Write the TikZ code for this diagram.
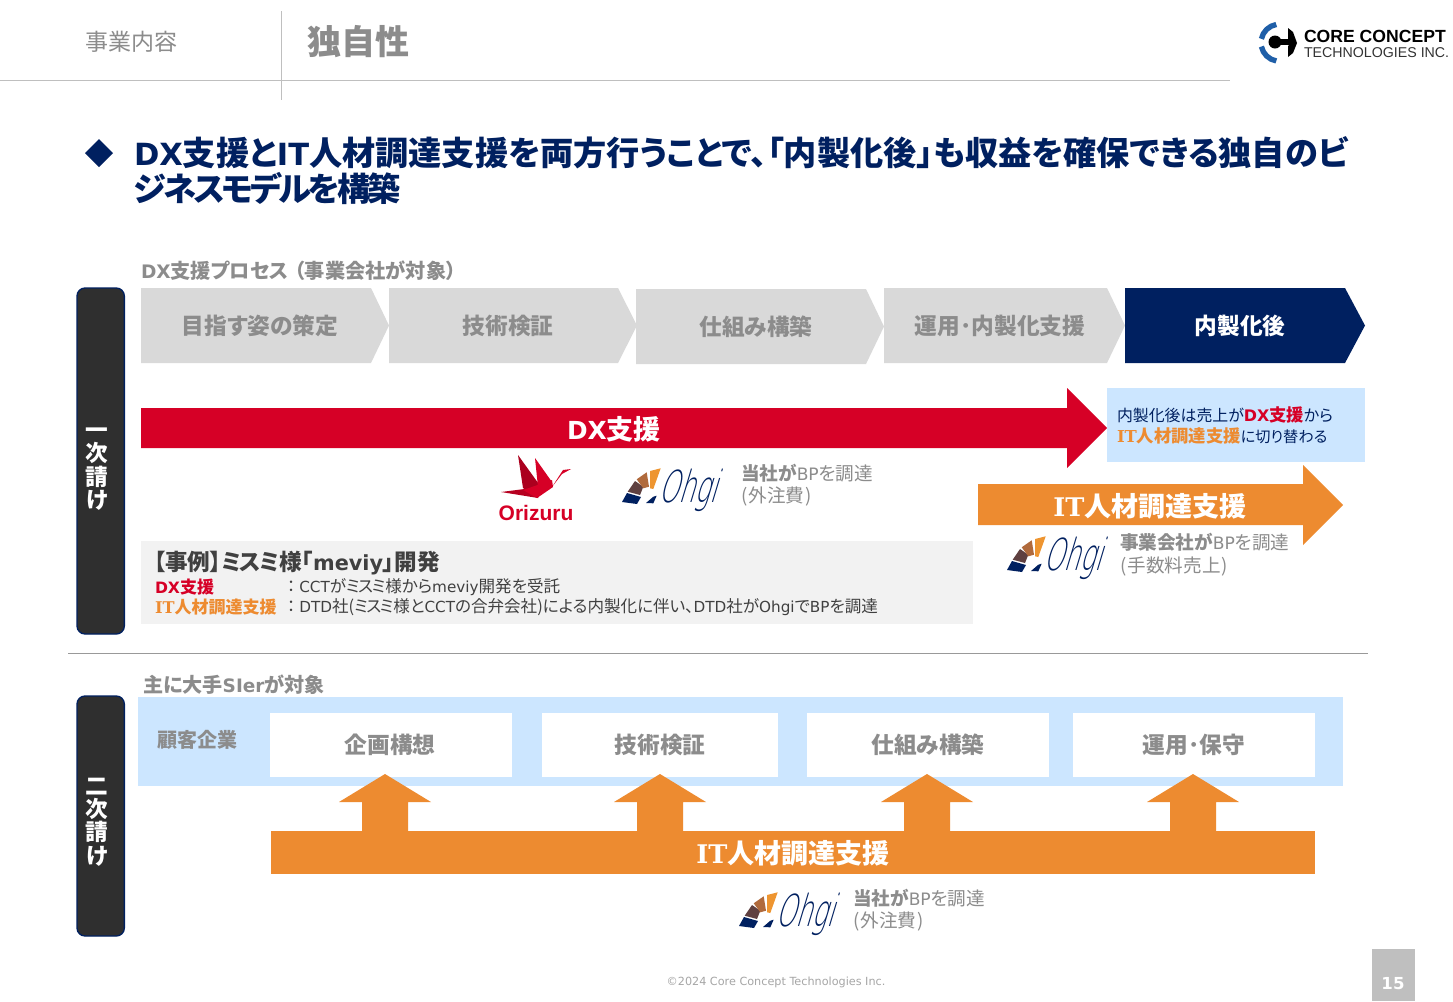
\documentclass[tikz,border=0pt]{standalone}
\usepackage{fontspec}
\setmainfont{Noto Sans CJK JP}[RawFeature=+palt]
\newfontfamily\latn{DejaVu Sans}[Scale=0.92]
\newfontfamily\slab{DejaVu Serif}[Scale=0.95]
\newfontfamily\logosans{Liberation Sans}
\newfontfamily\ohgifont{DejaVu Sans ExtraLight}[FakeSlant=0.3,FakeStretch=0.58]
\usetikzlibrary{positioning}
\definecolor{navy}{HTML}{002060}
\definecolor{dxred}{HTML}{D60026}
\definecolor{itorange}{HTML}{ED8B30}
\definecolor{stepgrey}{HTML}{D9D9D9}
\definecolor{labelgrey}{HTML}{8C8C8C}
\definecolor{paleblue}{HTML}{CCE6FF}
\definecolor{casegrey}{HTML}{F2F2F2}
\definecolor{bardark}{HTML}{2F2F2F}
\definecolor{ruleline}{HTML}{BFBFBF}
\definecolor{logoblue}{HTML}{1F5FA8}
\definecolor{fandark}{HTML}{5F4040}
\definecolor{fanmid}{HTML}{B06A3C}
\definecolor{fanlight}{HTML}{EE9530}
\newcommand{\pxfont}[1]{\fontsize{\fpeval{#1*0.75}}{\fpeval{#1*0.9}}\selectfont}
\newcommand{\lat}[1]{{\latn #1}}
\newcommand{\itword}{{\slab IT}}
\newcommand{\tight}[1]{{\addfontfeatures{LetterSpace=-8.8}#1}}

\begin{document}
\begin{tikzpicture}[
    x=0.75pt, y=-0.75pt,
    every node/.style={inner sep=0pt, outer sep=0pt},
    plain/.style={anchor=west, text=labelgrey},
    steptext/.style={font=\pxfont{22.7}\bfseries, text=labelgrey},
    arrowtext/.style={font=\pxfont{27}\bfseries, text=white},
    bodytext/.style={anchor=west, font=\pxfont{16.55}, text=black!75},
    sidebar/.style={draw=navy, line width=1pt, fill=bardark, rounded corners=6pt, anchor=north west, minimum width=35.5pt},
    ohgi/.pic={
        \fill[navy] (0,35) -- (5,26) -- (19,30) -- (15,37) -- cycle;
        \fill[fandark] (5.7,24.7) -- (13,14) -- (21.3,19.7) -- (18,28) -- cycle;
        \fill[fanmid] (14.7,12.3) -- (24.7,5.3) -- (27,19.7) -- (21.3,21.3) -- cycle;
        \fill[fanlight] (28,4) -- (38.7,1.3) -- (31.3,22) -- (28,21.3) -- cycle;
        \fill[navy] (24,36) -- (31.3,29.7) -- (34.7,28.7) -- (31.3,36.3) -- cycle;
        \node[anchor=base west, text=navy, font=\ohgifont\pxfont{44}] (-word) at (36,35) {Ohgi};
    }
    ]

    % Cabecera
    \useasboundingbox (0,0) rectangle (1453,1001);
    \fill[white] (0,0) rectangle (1453,1001);
    \draw[ruleline] (0,80.5) -- (1230,80.5);
    \draw[ruleline] (281.5,11) -- (281.5,100);
    \node[plain, font=\pxfont{23}] (seccion) at (85,42) {事業内容};
    \node[plain, font=\pxfont{34}\bfseries] (tema) at (307,42) {独自性};

    % Logo
    \draw[logoblue, line width=4pt] ([shift={(100:18.5)}]1279.5,42.7) arc (100:168:18.5);
    \draw[logoblue, line width=4pt] ([shift={(192:18.5)}]1279.5,42.7) arc (192:260:18.5);
    \fill[black] (1275,42) circle (6.5);
    \fill[black] (1275,39) rectangle (1291,45);
    \fill[black] (1288,28) -- (1293,32) -- (1297,43) -- (1293,53) -- (1288,57) -- (1288,46) -- (1291,43) -- (1288,39) -- cycle;
    \node[anchor=base west, font=\logosans\bfseries\pxfont{17.6}] (marca) at (1304,42) {CORE CONCEPT};
    \node[anchor=base west, font=\logosans\pxfont{14.2}, text=black!80] (marcab) at (1304,57) {TECHNOLOGIES INC.};

    % Titulo
    \fill[navy] (85,153) -- (99,139) -- (113,153) -- (99,167) -- cycle;
    \node[anchor=west, align=left, text=navy, font=\fontsize{24.9}{27}\selectfont\bfseries] (titulo) at (134,171) {\lat{DX}支援と\lat{IT}人材調達支援を両方行うことで、「内製化後」も収益を確保できる独自のビ\\\tight{ジネスモデルを構築}};

    % Proceso
    \node[plain, font=\pxfont{20.2}\bfseries] (proceso) at (141,271) {\lat{DX}支援プロセス\hspace{4.5pt}（事業会社が対象）\hspace{4.5pt}};
    \fill[stepgrey] (141,288) -- (371,288) -- (389,325.5) -- (371,363) -- (141,363) -- cycle;
    \fill[stepgrey] (389,288) -- (618,288) -- (637,325.5) -- (618,363) -- (389,363) -- cycle;
    \fill[stepgrey] (636,289) -- (866,289) -- (884,326.5) -- (866,364) -- (636,364) -- cycle;
    \fill[stepgrey] (884,288) -- (1107,288) -- (1125,325.5) -- (1107,363) -- (884,363) -- cycle;
    \fill[navy] (1125,288) -- (1345,288) -- (1365,325.5) -- (1345,363) -- (1125,363) -- cycle;
    \node[steptext] (paso1) at (260,326) {目指す姿の策定};
    \node[steptext] (paso2) at (508,326) {技術検証};
    \node[steptext] (paso3) at (756,327) {仕組み構築};
    \node[steptext] (paso4) at (1000,326) {運用･内製化支援};
    \node[steptext, text=white] (paso5) at (1240,326) {内製化後};

    % Flechas principales
    \fill[dxred] (141,408) -- (1067,408) -- (1067,388) -- (1107,428) -- (1067,468) -- (1067,448) -- (141,448) -- cycle;
    \node[arrowtext] (dx) at (614,429) {\lat{DX}支援};
    \fill[paleblue] (1107,388) rectangle (1365,462);
    \node[bodytext, font=\pxfont{15.9}, text=navy] (cambio1) at (1117,415) {内製化後は売上が{\pxfont{17.3}\bfseries\color{dxred}\lat{DX}支援}から};
    \node[bodytext, font=\pxfont{15.2}, text=navy] (cambio2) at (1117,436) {{\pxfont{17.3}\bfseries\color{itorange}\itword 人材調達支援}に切り替わる};
    \fill[itorange] (978,484) -- (1303,484) -- (1303,465) -- (1343,505) -- (1303,545) -- (1303,525) -- (978,525) -- cycle;
    \node[arrowtext] (it) at (1150,506) {\itword 人材調達支援};

    % Orizuru
    \fill[dxred!80!black] (518,455) -- (541,487) -- (538,498) -- (523,488) -- cycle;
    \fill[dxred] (535,458) -- (552,482) -- (538,487) -- cycle;
    \fill[dxred!85!black] (501,492) -- (540,487) -- (538,498) -- cycle;
    \fill[dxred] (523,490) -- (552,480) -- (553,487) -- (537,498) -- cycle;
    \fill[dxred] (552,487) -- (563,470) -- (571,469) -- (562,474) -- cycle;
    \node[text=dxred, font=\logosans\bfseries\pxfont{21}] (orizuru) at (536,513) {Orizuru};

    % Logos y textos
    \pic (ohgiA) at (622,467) {ohgi};
    \node[plain, font=\pxfont{18.6}] (bpA) at (741,473) {{\bfseries 当社が}\lat{BP}を調達};
    \node[plain, font=\pxfont{18.6}] (costoA) at (741,496) {(\hspace{1pt}外注費\hspace{1pt})};
    \pic (ohgiB) at (1007,535) {ohgi};
    \node[plain, font=\pxfont{18.6}] (bpB) at (1120,542) {{\bfseries 事業会社が}\lat{BP}を調達};
    \node[plain, font=\pxfont{18.6}] (costoB) at (1120,566) {(\hspace{1pt}手数料売上\hspace{1pt})};

    % Caso
    \fill[casegrey] (141,541) rectangle (973,624);
    \node[anchor=west, font=\pxfont{22.6}\bfseries, text=black!75] (caso) at (154,563) {【事例】\tight{ミスミ}様「\lat{meviy}」開発};
    \node[bodytext, font=\pxfont{17}\bfseries, text=dxred] (casoA) at (155,587) {\lat{DX}支援};
    \node[bodytext] (casoAt) at (287,587) {：\hspace{3pt}\lat{CCT}が\tight{ミスミ}様から\lat{meviy}開発を受託};
    \node[bodytext, font=\pxfont{17}\bfseries, text=itorange] (casoB) at (155,607) {\itword 人材調達支援};
    \node[bodytext] (casoBt) at (287,607) {：\hspace{3pt}\lat{DTD}社(\tight{ミスミ}様と\lat{CCT}の合弁会社)による内製化に伴い、\lat{DTD}社が\lat{Ohgi}で\lat{BP}を調達};

    % Barras laterales
    \node[sidebar, minimum height=259.5pt] (primero) at (77,288) {};
    \node[text=white, align=center, font=\fontsize{17}{17.5}\selectfont\bfseries] (primerot) at (97,469) {一\\次\\請\\け};
    \node[sidebar, minimum height=180pt] (segundo) at (77,696) {};
    \node[text=white, align=center, font=\fontsize{17}{17.5}\selectfont\bfseries] (segundot) at (97,822) {二\\次\\請\\け};
    \draw[ruleline!80!black] (68,653) -- (1368,653);

    % Parte inferior
    \node[plain, font=\pxfont{20.1}\bfseries] (objetivo) at (143,685) {主に大手\lat{SIer}が対象};
    \fill[paleblue] (138,697) rectangle (1343,786);
    \node[plain, font=\pxfont{20}\bfseries] (cliente) at (157,740) {顧客企業};
    \fill[white] (270,713) rectangle (512,777);
    \fill[white] (542,713) rectangle (778,777);
    \fill[white] (807,713) rectangle (1049,777);
    \fill[white] (1073,713) rectangle (1315,777);
    \node[steptext] (fase1) at (390,745) {企画構想};
    \node[steptext] (fase2) at (660,745) {技術検証};
    \node[steptext] (fase3) at (928,745) {仕組み構築};
    \node[steptext] (fase4) at (1194,745) {運用･保守};
    % flechas hacia arriba
    \foreach \cx in {385,660,927,1193}
        \fill[itorange] (\cx-23,832) -- (\cx-23,802) -- (\cx-46,802) -- (\cx,774) -- (\cx+46,802) -- (\cx+23,802) -- (\cx+23,832) -- cycle;
    \fill[itorange] (271,831) rectangle (1315,874);
    \node[arrowtext] (itb) at (793,853) {\itword 人材調達支援};
    \pic (ohgiC) at (739,891) {ohgi};
    \node[plain, font=\pxfont{18.6}] (bpC) at (853,898) {{\bfseries 当社が}\lat{BP}を調達};
    \node[plain, font=\pxfont{18.6}] (costoC) at (853,921) {(\hspace{1pt}外注費\hspace{1pt})};

    % Pie
    \node[text=black!35, font=\latn\pxfont{12.2}] (copy) at (776,982) {©2024 Core Concept Technologies Inc.};
    \fill[black!25] (1372,949) rectangle (1415,1001);
    \node[text=white, font=\latn\bfseries\pxfont{18}] (pagina) at (1393,984) {15};
\end{tikzpicture}
\end{document}
